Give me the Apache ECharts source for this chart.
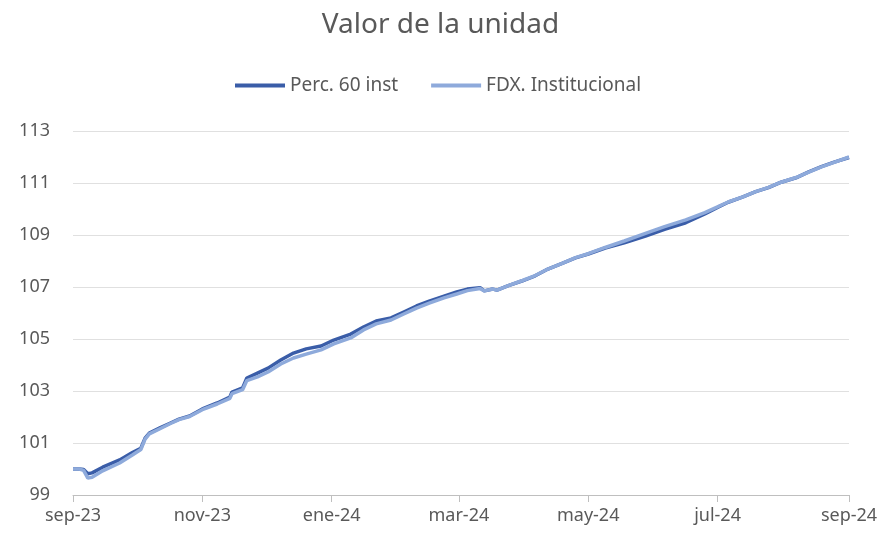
<!DOCTYPE html>
<html>
<head>
<meta charset="utf-8">
<script src="https://cdn.jsdelivr.net/npm/echarts@6/dist/echarts.min.js"></script>
<style>
  html, body { margin: 0; padding: 0; background: #fff; }
  #chart { width: 881px; height: 535px; }
</style>
</head>
<body>
<div id="chart"></div>
<script>
// fechas
const dates = [
    '2023-09-01', '2023-09-04', '2023-09-06', '2023-09-08', '2023-09-10', '2023-09-15',
    '2023-09-23', '2023-09-29', '2023-10-03', '2023-10-05', '2023-10-07', '2023-10-12',
    '2023-10-17', '2023-10-21', '2023-10-26', '2023-11-01', '2023-11-08', '2023-11-14',
    '2023-11-15', '2023-11-20', '2023-11-22', '2023-11-27', '2023-12-02', '2023-12-08',
    '2023-12-14', '2023-12-20', '2023-12-27', '2024-01-02', '2024-01-10', '2024-01-16',
    '2024-01-22', '2024-01-29', '2024-02-04', '2024-02-10', '2024-02-16', '2024-02-23',
    '2024-02-29', '2024-03-05', '2024-03-11', '2024-03-13', '2024-03-17', '2024-03-19',
    '2024-03-24', '2024-03-31', '2024-04-06', '2024-04-12', '2024-04-19', '2024-04-25',
    '2024-05-01', '2024-05-09', '2024-05-18', '2024-05-28', '2024-06-06', '2024-06-16',
    '2024-06-25', '2024-07-01', '2024-07-06', '2024-07-13', '2024-07-19', '2024-07-25',
    '2024-07-31', '2024-08-07', '2024-08-13', '2024-08-19', '2024-08-25', '2024-09-01'
]
const perc60 = [
    100.0, 100.0, 99.98, 99.82, 99.85, 100.07,
    100.35, 100.63, 100.8, 101.19, 101.38, 101.58,
    101.77, 101.92, 102.04, 102.31, 102.54, 102.77,
    102.96, 103.12, 103.5, 103.69, 103.88, 104.19,
    104.46, 104.62, 104.73, 104.96, 105.19, 105.46,
    105.69, 105.81, 106.04, 106.27, 106.46, 106.65,
    106.81, 106.92, 106.97, 106.85, 106.92, 106.88,
    107.04, 107.24, 107.43, 107.69, 107.92, 108.12,
    108.27, 108.5, 108.7, 108.96, 109.22, 109.47,
    109.81, 110.06, 110.26, 110.47, 110.67, 110.82,
    111.03, 111.2, 111.43, 111.63, 111.8, 111.98
]
const fdx = [
    100.0, 100.0, 99.95, 99.65, 99.68, 99.93,
    100.23, 100.54, 100.75, 101.15, 101.35, 101.55,
    101.75, 101.9, 102.02, 102.28, 102.5, 102.72,
    102.9, 103.05, 103.4, 103.54, 103.73, 104.04,
    104.27, 104.42, 104.58, 104.81, 105.04, 105.35,
    105.58, 105.73, 105.96, 106.19, 106.38, 106.58,
    106.73, 106.86, 106.94, 106.85, 106.92, 106.88,
    107.04, 107.25, 107.44, 107.69, 107.92, 108.13,
    108.28, 108.52, 108.77, 109.06, 109.32, 109.58,
    109.86, 110.08, 110.27, 110.47, 110.67, 110.83,
    111.03, 111.21, 111.42, 111.62, 111.79, 112.0
]
const tickDates = ['2023-09-01', '2023-11-01', '2024-01-01', '2024-03-01', '2024-05-01', '2024-07-01', '2024-09-01']
const tickLabels = ['sep-23', 'nov-23', 'ene-24', 'mar-24', 'may-24', 'jul-24', 'sep-24']

const toTime = s => new Date(s + 'T00:00:00').getTime()
const tickTimes = tickDates.map(toTime)
const font = 'Noto Sans'

const chart = echarts.init(document.getElementById('chart'))
chart.setOption({
    animation: false,
    title: {
        text: 'Valor de la unidad',
        left: 'center',
        top: 6,
        textStyle: {
            fontFamily: font,
            fontSize: 28,
            fontWeight: 'normal',
            color: '#595959'
        }
    },
    legend: {
        left: 230,
        top: 71,
        icon: 'rect',
        itemWidth: 50,
        itemHeight: 4,
        itemGap: 33,
        textStyle: {
            fontFamily: font,
            fontSize: 19,
            color: '#595959'
        }
    },
    grid: {
        left: 73,
        right: 32,
        top: 131,
        bottom: 40
    },
    xAxis: {
        // eje de valores con marcas de tiempo, etiquetas cada dos meses
        type: 'value',
        min: tickTimes[0],
        max: tickTimes[tickTimes.length - 1],
        axisLine: {
            lineStyle: { color: '#bfbfbf', width: 1 }
        },
        axisTick: {
            show: true,
            length: 7,
            customValues: tickTimes,
            lineStyle: { color: '#bfbfbf' }
        },
        axisLabel: {
            customValues: tickTimes,
            margin: 12,
            fontFamily: font,
            fontSize: 18,
            color: '#595959',
            formatter: function (value) {
                const i = tickTimes.indexOf(value)
                return i >= 0 ? tickLabels[i] : ''
            }
        },
        splitLine: { show: false }
    },
    yAxis: {
        type: 'value',
        min: 99,
        max: 113,
        interval: 2,
        axisLine: { show: false },
        axisTick: { show: false },
        axisLabel: {
            margin: 23,
            fontFamily: font,
            fontSize: 18,
            color: '#595959'
        },
        splitLine: {
            lineStyle: { color: '#e0e0e0', width: 1 }
        }
    },
    series: [
        {
            name: 'Perc. 60 inst',
            type: 'line',
            showSymbol: false,
            data: dates.map((d, i) => [toTime(d), perc60[i]]),
            lineStyle: { width: 3.5, color: '#3a5da8' },
            itemStyle: { color: '#3a5da8' }
        },
        {
            name: 'FDX. Institucional',
            type: 'line',
            showSymbol: false,
            data: dates.map((d, i) => [toTime(d), fdx[i]]),
            lineStyle: { width: 3.5, color: '#8eaadb' },
            itemStyle: { color: '#8eaadb' }
        }
    ]
})
</script>
</body>
</html>
